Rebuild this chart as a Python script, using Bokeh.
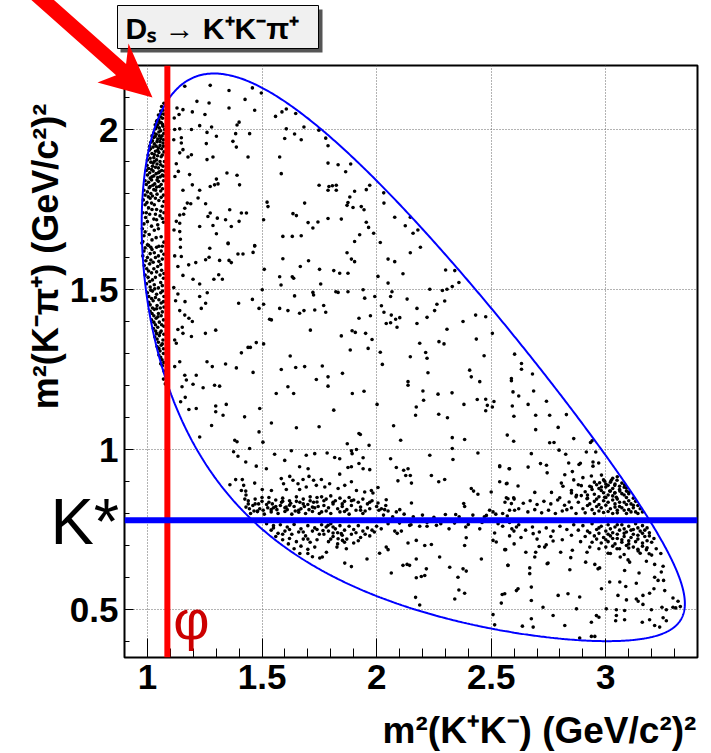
import numpy as np
from bokeh.plotting import figure
from bokeh.models import Range1d, FixedTicker, NumeralTickFormatter, Span, Label
from bokeh.core.properties import value
from bokeh.embed import file_html
from bokeh.resources import INLINE

# ---------------- data: (m2(K+K-), m2(K-pi+)) ----------------
upper_left = [
    (1.163, 2.135), (1.274, 2.138), (1.356, 2.122), (1.458, 2.130), (1.497, 2.114), (1.216, 2.088),
    (1.269, 2.083), (1.426, 2.094), (1.129, 2.067), (1.155, 2.062), (1.196, 2.055), (1.251, 2.047),
    (1.356, 2.067), (1.468, 2.060), (1.587, 2.055), (1.606, 2.064), (1.559, 2.041), (1.647, 2.050),
    (1.138, 2.047), (1.117, 2.036), (1.228, 2.012), (1.280, 2.008), (1.400, 2.023), (1.391, 2.014),
    (1.606, 2.002), (1.683, 2.008), (1.119, 2.000), (1.141, 2.002), (1.192, 2.000), (1.260, 1.991),
    (1.301, 1.979), (1.385, 1.987), (1.446, 1.987), (1.671, 1.968), (1.599, 1.972), (1.642, 1.986),
    (1.748, 1.998), (1.148, 1.974), (1.115, 1.968), (1.148, 1.958), (1.257, 1.956), (1.373, 1.963),
    (1.388, 1.945), (1.155, 1.937), (1.141, 1.927), (1.192, 1.921), (1.177, 1.914), (1.286, 1.914),
    (1.260, 1.906), (1.439, 1.914), (1.577, 1.914), (1.126, 1.893), (1.135, 1.869), (1.184, 1.859),
    (1.120, 1.853), (1.347, 1.864), (1.391, 1.857), (1.584, 1.862), (1.301, 1.845), (1.274, 1.822),
    (1.293, 1.827), (1.308, 1.830), (1.402, 1.827), (1.228, 1.810), (1.196, 1.827), (1.749, 1.826),
    (1.155, 1.810), (1.221, 1.786), (1.174, 1.770), (1.189, 1.768), (1.254, 1.768), (1.522, 1.773),
    (1.526, 1.759), (1.163, 1.754), (1.359, 1.749), (1.686, 1.770), (1.141, 1.733), (1.158, 1.735),
    (1.274, 1.739), (1.264, 1.728), (1.410, 1.739), (1.432, 1.739), (1.635, 1.737), (1.650, 1.731),
    (1.126, 1.713), (1.141, 1.707), (1.305, 1.723), (1.341, 1.718), (1.400, 1.713), (1.507, 1.718),
    (1.701, 1.709), (1.744, 1.711), (1.116, 1.686), (1.141, 1.681), (1.228, 1.697), (1.286, 1.700),
    (1.366, 1.697), (1.591, 1.666), (1.632, 1.666), (1.671, 1.668), (1.722, 1.692), (1.144, 1.657),
    (1.301, 1.674), (1.352, 1.645), (1.468, 1.636), (1.272, 1.629),
]

phi_band_upper = [
    (1.062, 2.072), (1.068, 2.060), (1.072, 2.082), (1.058, 2.058),
    (1.048, 2.045), (1.058, 2.040), (1.066, 2.035), (1.050, 2.030), (1.042, 2.028), (1.072, 2.048),
    (1.034, 2.015), (1.045, 2.015), (1.060, 2.022), (1.052, 2.005), (1.068, 2.010), (1.035, 2.002),
    (1.075, 2.000), (1.040, 2.025),
    (1.028, 1.990), (1.038, 1.985), (1.050, 1.992), (1.064, 1.980), (1.028, 1.975), (1.045, 1.970),
    (1.058, 1.972), (1.072, 1.988), (1.020, 1.980),
    (1.015, 1.960), (1.030, 1.955), (1.042, 1.962), (1.055, 1.950), (1.068, 1.958), (1.025, 1.945),
    (1.048, 1.942), (1.062, 1.940), (1.010, 1.948),
    (1.008, 1.935), (1.020, 1.925), (1.035, 1.932), (1.050, 1.928), (1.060, 1.915), (1.072, 1.930),
    (1.028, 1.912), (1.044, 1.918), (1.003, 1.920),
    (1.000, 1.905), (1.015, 1.898), (1.030, 1.900), (1.042, 1.892), (1.055, 1.900), (1.068, 1.885),
    (1.022, 1.885), (1.048, 1.880), (0.998, 1.888),
    (0.995, 1.872), (1.010, 1.865), (1.025, 1.870), (1.038, 1.862), (1.052, 1.868), (1.065, 1.858),
    (1.020, 1.852), (1.045, 1.850), (1.075, 1.870),
    (0.990, 1.840), (1.005, 1.835), (1.018, 1.842), (1.032, 1.830), (1.048, 1.838), (1.060, 1.828),
    (1.012, 1.822), (1.040, 1.820), (1.070, 1.840),
    (0.985, 1.810), (1.000, 1.805), (1.015, 1.800), (1.028, 1.812), (1.042, 1.798), (1.058, 1.808),
    (1.070, 1.795), (1.022, 1.792),
    (0.982, 1.780), (0.998, 1.772), (1.012, 1.785), (1.030, 1.765), (1.050, 1.778), (1.065, 1.760),
    (1.005, 1.755), (1.040, 1.750),
    (0.980, 1.740), (0.992, 1.725), (1.010, 1.735), (1.028, 1.720), (1.055, 1.730), (1.070, 1.710),
    (0.985, 1.705), (1.045, 1.702),
    (0.978, 1.690), (0.990, 1.680), (1.008, 1.672), (1.030, 1.685), (1.060, 1.665), (0.980, 1.650),
    (1.000, 1.640), (1.020, 1.655), (1.050, 1.635), (1.072, 1.648),
    (1.060, 2.050), (1.054, 2.022), (1.066, 2.016), (1.040, 2.008), (1.058, 1.996), (1.034, 1.978),
    (1.052, 1.980), (1.070, 1.968), (1.022, 1.965), (1.038, 1.948), (1.055, 1.962), (1.070, 1.948),
    (1.014, 1.940), (1.030, 1.922), (1.045, 1.935), (1.065, 1.920), (1.012, 1.910), (1.025, 1.895),
    (1.040, 1.905), (1.058, 1.890), (1.074, 1.900), (1.005, 1.878), (1.018, 1.875), (1.035, 1.882),
    (1.048, 1.865), (1.062, 1.872), (1.000, 1.858), (1.012, 1.848), (1.028, 1.855), (1.042, 1.842),
    (1.056, 1.852), (1.070, 1.855), (0.995, 1.828), (1.008, 1.818), (1.024, 1.826), (1.036, 1.810),
    (1.052, 1.822), (1.066, 1.815), (0.990, 1.795), (1.004, 1.790), (1.018, 1.770), (1.035, 1.785),
    (1.060, 1.788), (1.072, 1.775), (0.990, 1.765), (1.020, 1.750), (1.058, 1.745), (1.072, 1.740),
    (0.995, 1.740), (1.035, 1.735), (1.000, 1.712), (1.040, 1.718), (1.065, 1.722), (1.018, 1.698),
    (1.048, 1.690), (0.985, 1.668), (1.038, 1.662), (1.015, 1.632), (1.065, 1.635),
]

phi_band_lower = [
    (0.976, 1.645), (0.990, 1.630), (1.005, 1.638), (1.020, 1.625), (1.040, 1.632), (1.060, 1.620),
    (1.072, 1.610), (0.980, 1.605), (1.000, 1.600), (1.015, 1.592), (1.035, 1.600), (1.050, 1.588),
    (1.065, 1.595), (0.986, 1.575), (0.997, 1.565), (1.010, 1.580), (1.028, 1.565), (1.045, 1.572),
    (1.062, 1.560), (0.990, 1.545), (1.003, 1.538), (1.018, 1.552), (1.035, 1.538), (1.055, 1.545),
    (1.070, 1.535), (0.996, 1.518), (1.012, 1.508), (1.030, 1.515), (1.048, 1.505), (1.065, 1.512),
    (1.000, 1.490), (1.006, 1.478), (1.022, 1.495), (1.040, 1.485), (1.058, 1.490), (1.072, 1.478),
    (1.006, 1.460), (1.012, 1.452), (1.025, 1.465), (1.042, 1.450), (1.060, 1.458),
    (1.012, 1.432), (1.020, 1.425), (1.030, 1.438), (1.048, 1.425), (1.065, 1.430),
    (1.018, 1.405), (1.028, 1.398), (1.038, 1.410), (1.052, 1.398), (1.070, 1.405),
    (1.026, 1.378), (1.036, 1.370), (1.045, 1.382), (1.060, 1.370),
    (1.032, 1.352), (1.042, 1.345), (1.052, 1.356), (1.068, 1.342),
    (1.042, 1.322), (1.050, 1.316), (1.060, 1.326), (1.050, 1.295), (1.058, 1.288), (1.070, 1.300),
    (1.058, 1.268), (1.065, 1.262), (1.072, 1.245),
    (0.985, 1.620), (1.012, 1.612), (1.030, 1.615), (1.048, 1.605), (0.993, 1.590), (1.025, 1.585),
    (1.058, 1.578), (1.005, 1.558), (1.040, 1.555), (1.072, 1.550), (1.010, 1.525), (1.022, 1.530),
    (1.058, 1.522), (1.015, 1.498), (1.032, 1.502), (1.066, 1.495), (1.018, 1.472), (1.035, 1.475),
    (1.050, 1.468), (1.070, 1.462), (1.022, 1.442), (1.040, 1.440), (1.056, 1.442), (1.072, 1.445),
    (1.028, 1.418), (1.046, 1.415), (1.060, 1.418), (1.035, 1.390), (1.062, 1.390), (1.072, 1.385),
    (1.040, 1.362), (1.055, 1.365), (1.072, 1.360), (1.048, 1.335), (1.065, 1.330), (1.055, 1.308),
    (1.070, 1.315), (1.064, 1.280), (1.072, 1.272), (1.070, 1.220), (1.078, 1.205),
]

mid_left = [
    (1.144, 1.632), (1.352, 1.643), (1.468, 1.637), (1.395, 1.611), (1.417, 1.611), (1.461, 1.616),
    (1.119, 1.605), (1.148, 1.603), (1.269, 1.601), (1.315, 1.591), (1.356, 1.591), (1.366, 1.584),
    (1.254, 1.593), (1.133, 1.572), (1.180, 1.577), (1.211, 1.584), (1.591, 1.596), (1.667, 1.572),
    (1.703, 1.590), (1.751, 1.563), (1.510, 1.563), (1.155, 1.544), (1.199, 1.532), (1.228, 1.517),
    (1.290, 1.532), (1.311, 1.546), (1.327, 1.532), (1.577, 1.540), (1.583, 1.514), (1.632, 1.540),
    (1.638, 1.535), (1.115, 1.506), (1.133, 1.486), (1.123, 1.465), (1.164, 1.462), (1.228, 1.478),
    (1.254, 1.457), (1.261, 1.490), (1.235, 1.441), (1.398, 1.457), (1.458, 1.469), (1.501, 1.499),
    (1.507, 1.454), (1.487, 1.441), (1.577, 1.441), (1.613, 1.434), (1.642, 1.480), (1.683, 1.434),
    (1.664, 1.426), (1.722, 1.491), (1.725, 1.483), (1.730, 1.436), (1.141, 1.434), (1.163, 1.420),
    (1.181, 1.410), (1.196, 1.400), (1.152, 1.382), (1.133, 1.375), (1.155, 1.363), (1.192, 1.353),
    (1.253, 1.363), (1.298, 1.373), (1.533, 1.407), (1.541, 1.405), (1.711, 1.373), (1.119, 1.342),
    (1.126, 1.332), (1.475, 1.334), (1.507, 1.330), (1.439, 1.319), (1.449, 1.319), (1.410, 1.302),
    (1.623, 1.292), (1.141, 1.274), (1.119, 1.259), (1.260, 1.274), (1.283, 1.259), (1.341, 1.267),
    (1.388, 1.255), (1.461, 1.241), (1.584, 1.250), (1.647, 1.256), (1.686, 1.259), (1.163, 1.232),
    (1.213, 1.232), (1.170, 1.217), (1.151, 1.196), (1.199, 1.204), (1.243, 1.193), (1.293, 1.201),
    (1.315, 1.198), (1.613, 1.196), (1.562, 1.175), (1.638, 1.175), (1.737, 1.219), (1.165, 1.163),
    (1.145, 1.149), (1.181, 1.125), (1.213, 1.128), (1.298, 1.136), (1.344, 1.141), (1.330, 1.107),
    (1.298, 1.118), (1.424, 1.102), (1.490, 1.128), (1.541, 1.083), (1.650, 1.068), (1.749, 1.071),
    (1.280, 1.075), (1.228, 1.039), (1.381, 1.029), (1.391, 1.024), (1.487, 1.055), (1.504, 1.023),
    (1.446, 1.003),
]

upper_mid = [
    (1.778, 1.973), (1.788, 1.949), (1.788, 1.895), (1.832, 1.890), (1.887, 1.892), (1.865, 1.868),
    (1.792, 1.822), (1.807, 1.824), (1.824, 1.826), (1.788, 1.810), (1.824, 1.810), (1.904, 1.807),
    (1.955, 1.812), (1.970, 1.826), (1.883, 1.789), (1.875, 1.772), (1.871, 1.763), (1.897, 1.756),
    (1.933, 1.759), (1.945, 1.749), (2.031, 1.802), (2.032, 1.770), (1.788, 1.722), (1.846, 1.720),
    (1.955, 1.710), (1.965, 1.694), (1.987, 1.676), (1.926, 1.671), (1.904, 1.650), (2.016, 1.647),
    (2.079, 1.726), (2.125, 1.699), (2.147, 1.726), (2.159, 1.676), (2.180, 1.686), (2.191, 1.632),
    (2.147, 1.615), (1.871, 1.615), (1.890, 1.595), (2.050, 1.595),
]

center = [
    (2.079, 1.587), (1.904, 1.587), (1.813, 1.559), (1.839, 1.551), (1.875, 1.551), (2.115, 1.549),
    (2.301, 1.561), (2.341, 1.559), (1.756, 1.517), (1.822, 1.493), (1.832, 1.491), (1.875, 1.493),
    (1.941, 1.499), (2.006, 1.541), (2.050, 1.520), (2.067, 1.493), (2.061, 1.478), (1.992, 1.478),
    (1.948, 1.473), (2.232, 1.501), (2.287, 1.497), (2.307, 1.501), (2.330, 1.509), (2.359, 1.522),
    (1.769, 1.450), (1.778, 1.429), (1.923, 1.410), (1.973, 1.418), (2.021, 1.449), (2.032, 1.429),
    (2.064, 1.420), (2.083, 1.407), (2.101, 1.412), (2.042, 1.394), (2.061, 1.396), (2.089, 1.382),
    (2.133, 1.470), (2.176, 1.441), (2.176, 1.394), (2.220, 1.413), (2.253, 1.434), (2.263, 1.454),
    (2.297, 1.464), (2.307, 1.376), (2.377, 1.400), (2.432, 1.420), (2.476, 1.415), (1.893, 1.371),
    (1.907, 1.366), (1.846, 1.355), (1.952, 1.363), (1.980, 1.344), (2.188, 1.332), (2.272, 1.337),
    (2.294, 1.330), (2.435, 1.345), (2.505, 1.363), (1.885, 1.311), (1.963, 1.316), (2.016, 1.304),
    (2.025, 1.266), (2.147, 1.290), (2.214, 1.303), (2.220, 1.285), (2.224, 1.240), (2.469, 1.293),
    (2.602, 1.298), (1.763, 1.261), (1.851, 1.238), (1.788, 1.227), (1.788, 1.198), (2.137, 1.212),
    (2.137, 1.201), (2.406, 1.248), (2.413, 1.227), (2.450, 1.212), (2.588, 1.222), (2.588, 1.215),
    (2.595, 1.180), (1.945, 1.182), (1.894, 1.175), (2.002, 1.141), (2.202, 1.183), (2.205, 1.154),
    (2.268, 1.173), (2.329, 1.177), (2.173, 1.133), (2.170, 1.107), (2.271, 1.110), (2.309, 1.099),
    (2.381, 1.141), (2.439, 1.156), (2.476, 1.157), (2.483, 1.138), (2.505, 1.133), (2.476, 1.121),
    (2.512, 1.150), (2.592, 1.136), (2.620, 1.167), (2.599, 1.104), (1.813, 1.123), (2.074, 1.074),
    (1.923, 1.050), (1.929, 1.047), (2.105, 1.029), (1.967, 1.013), (1.872, 1.018), (1.890, 0.996),
    (1.912, 1.000), (1.893, 0.987), (1.784, 0.989), (1.817, 0.975), (1.839, 0.971), (1.941, 0.974),
    (2.061, 0.971), (2.232, 0.982), (2.330, 1.037), (2.330, 1.003), (2.333, 0.969), (2.384, 1.031),
    (2.442, 0.989), (2.570, 1.045), (2.598, 1.026),
]

right_mid = [
    (2.632, 1.269), (2.632, 1.251), (2.680, 1.236), (2.685, 1.183), (2.741, 1.151), (2.755, 1.107),
    (2.694, 1.107), (2.661, 1.141), (2.694, 1.062), (2.792, 1.069), (2.828, 1.109), (2.860, 1.034),
    (2.755, 1.021), (2.774, 1.022), (2.796, 0.998), (2.825, 0.985), (2.915, 0.992), (2.933, 1.022),
    (2.940, 1.027), (2.956, 0.992), (2.675, 0.987), (2.661, 0.945), (2.715, 0.956), (2.741, 0.951),
    (2.744, 0.927), (2.838, 0.958), (2.883, 0.953), (2.889, 0.957), (2.944, 0.961), (2.944, 0.948),
    (2.969, 0.958), (2.854, 0.931), (2.821, 0.921), (2.937, 0.917), (2.981, 0.920), (2.973, 0.896),
    (2.995, 0.901), (3.024, 0.904), (3.039, 0.888), (3.049, 0.904), (3.061, 0.870), (3.082, 0.890),
    (3.090, 0.880), (2.806, 0.895), (2.813, 0.885), (2.893, 0.887), (2.937, 0.883), (2.981, 0.883),
    (3.000, 0.883), (3.017, 0.870), (3.039, 0.864), (3.046, 0.851), (3.101, 0.867), (2.690, 0.866),
    (2.763, 0.866), (2.799, 0.849), (2.850, 0.864), (2.872, 0.857), (2.893, 0.856), (2.918, 0.846),
    (2.995, 0.851), (2.569, 0.894), (2.617, 0.886), (2.537, 0.949), (2.578, 0.940), (2.598, 0.849),
    (2.566, 0.849),
]

kstar_left = [
    (1.555, 0.985), (1.628, 0.996), (1.693, 0.982), (1.730, 0.987), (1.376, 0.993), (1.395, 0.979),
    (1.429, 0.961), (1.475, 0.948), (1.519, 0.940), (1.599, 0.966), (1.664, 0.946), (1.701, 0.940),
    (1.360, 0.890), (1.385, 0.906), (1.414, 0.906), (1.420, 0.888), (1.410, 0.872), (1.429, 0.870),
    (1.468, 0.895), (1.501, 0.875), (1.541, 0.872), (1.584, 0.909), (1.594, 0.893), (1.621, 0.916),
    (1.635, 0.904), (1.657, 0.893), (1.679, 0.906), (1.705, 0.916), (1.725, 0.904), (1.737, 0.888),
    (1.606, 0.875), (1.664, 0.875), (1.693, 0.883), (1.425, 0.845), (1.440, 0.830), (1.430, 0.858),
    (1.44, 0.84), (1.47, 0.845), (1.50, 0.838), (1.53, 0.850), (1.56, 0.842), (1.59, 0.848),
    (1.62, 0.840), (1.65, 0.852), (1.68, 0.845), (1.71, 0.840), (1.74, 0.850),
    (1.43, 0.820), (1.46, 0.825), (1.49, 0.815), (1.52, 0.828), (1.55, 0.818), (1.58, 0.825),
    (1.61, 0.812), (1.64, 0.822), (1.67, 0.815), (1.70, 0.828), (1.73, 0.818),
    (1.45, 0.800), (1.48, 0.808), (1.51, 0.798), (1.54, 0.805), (1.57, 0.800), (1.60, 0.806),
    (1.63, 0.798), (1.66, 0.804), (1.69, 0.800), (1.72, 0.806), (1.75, 0.800),
    (1.445, 0.815), (1.465, 0.808), (1.485, 0.830), (1.505, 0.810), (1.525, 0.818), (1.545, 0.830),
    (1.565, 0.812), (1.585, 0.835), (1.605, 0.820), (1.625, 0.832), (1.645, 0.808), (1.665, 0.835),
    (1.685, 0.822), (1.705, 0.812), (1.725, 0.835), (1.745, 0.822),
    (1.52, 0.768), (1.55, 0.755), (1.58, 0.765), (1.61, 0.758), (1.64, 0.766), (1.67, 0.752),
    (1.70, 0.762), (1.73, 0.755), (1.54, 0.748), (1.57, 0.738), (1.60, 0.745), (1.63, 0.735),
    (1.66, 0.742), (1.69, 0.730), (1.72, 0.745), (1.75, 0.735), (1.56, 0.728), (1.59, 0.718),
    (1.62, 0.722), (1.65, 0.712), (1.68, 0.720), (1.71, 0.710), (1.74, 0.718), (1.615, 0.705),
    (1.64, 0.690), (1.67, 0.698), (1.70, 0.688), (1.73, 0.695), (1.665, 0.675), (1.70, 0.675),
    (1.72, 0.665),
    (1.47, 0.830), (1.50, 0.850), (1.53, 0.835), (1.56, 0.822), (1.59, 0.838), (1.62, 0.826),
    (1.65, 0.838), (1.68, 0.830), (1.71, 0.852), (1.74, 0.836), (1.48, 0.806), (1.54, 0.812),
    (1.60, 0.818), (1.66, 0.810), (1.72, 0.820), (1.55, 0.762), (1.62, 0.750), (1.68, 0.742),
    (1.74, 0.750), (1.59, 0.735), (1.70, 0.720),
]

kstar_mid = [
    (1.839, 0.923), (1.875, 0.944), (1.890, 0.946), (1.923, 0.956), (1.941, 0.940), (1.970, 0.937),
    (2.086, 0.944), (2.118, 0.935), (2.137, 0.940), (2.127, 0.919), (2.147, 0.919), (2.152, 0.895),
    (2.093, 0.902), (2.239, 0.919), (2.271, 0.899), (2.297, 0.906), (2.413, 0.878), (2.423, 0.870),
    (2.442, 0.860), (2.500, 0.867), (2.537, 0.899), (2.566, 0.893), (2.580, 0.940), (2.537, 0.946),
    (2.573, 0.846), (2.588, 0.831), (2.602, 0.810), (1.759, 0.906), (1.774, 0.883), (1.795, 0.893),
    (1.832, 0.878), (1.861, 0.888), (1.890, 0.899), (1.912, 0.872), (1.948, 0.867), (1.977, 0.872),
    (1.984, 0.864), (2.006, 0.881), (2.042, 0.843), (2.006, 0.833), (2.021, 0.815), (2.035, 0.812),
    (2.050, 0.808), (2.086, 0.805), (2.101, 0.812), (2.152, 0.833), (2.079, 0.745), (2.108, 0.745),
    (2.090, 0.738), (2.144, 0.763), (2.188, 0.760), (2.220, 0.760), (2.261, 0.763), (2.316, 0.752),
    (2.345, 0.797), (2.380, 0.831), (2.384, 0.822), (2.389, 0.758), (2.450, 0.752), (2.479, 0.794),
    (2.493, 0.810), (2.508, 0.805), (2.515, 0.739), (2.522, 0.711), (2.508, 0.716), (2.599, 0.745),
    (2.610, 0.758), (2.559, 0.687), (2.573, 0.638), (2.457, 0.658), (2.391, 0.724), (2.384, 0.700),
    (2.355, 0.601), (2.341, 0.533), (2.384, 0.551), (2.359, 0.561), (2.377, 0.627), (2.391, 0.620),
    (2.319, 0.632), (2.275, 0.664), (2.217, 0.627), (2.195, 0.603), (2.210, 0.606), (2.173, 0.599),
    (2.188, 0.514), (2.170, 0.538), (2.144, 0.638), (2.115, 0.638), (2.133, 0.641), (2.064, 0.614),
    (2.173, 0.658), (2.239, 0.703), (2.210, 0.700), (2.173, 0.716), (2.137, 0.708), (2.042, 0.695),
    (2.050, 0.687), (2.013, 0.676), (1.958, 0.658), (1.752, 0.661), (1.763, 0.664), (1.781, 0.679),
    (1.827, 0.695), (1.851, 0.716), (1.868, 0.690), (1.890, 0.634), (1.861, 0.645), (1.810, 0.739),
    (1.832, 0.721), (1.846, 0.737), (1.810, 0.758), (1.788, 0.763), (1.766, 0.747), (2.508, 0.484),
    (2.515, 0.452), (2.548, 0.547), (2.544, 0.520), (2.617, 0.565),
    (1.76, 0.852), (1.78, 0.845), (1.80, 0.855), (1.82, 0.840), (1.84, 0.848), (1.86, 0.838),
    (1.88, 0.850), (1.90, 0.842), (1.92, 0.835), (1.94, 0.845), (1.96, 0.830), (1.98, 0.840),
    (1.77, 0.825), (1.79, 0.818), (1.81, 0.830), (1.83, 0.815), (1.85, 0.822), (1.87, 0.812),
    (1.89, 0.825), (1.91, 0.810), (1.93, 0.820), (1.95, 0.808), (1.97, 0.815), (2.00, 0.822),
    (1.76, 0.805), (1.80, 0.800), (1.84, 0.805), (1.88, 0.798),
    (1.76, 0.765), (1.78, 0.758), (1.80, 0.768), (1.82, 0.752), (1.84, 0.762), (1.86, 0.748),
    (1.88, 0.760), (1.90, 0.750), (1.92, 0.762), (1.94, 0.745), (1.96, 0.755), (1.98, 0.748),
    (2.00, 0.760), (2.02, 0.752), (1.77, 0.735), (1.81, 0.728), (1.85, 0.732), (1.87, 0.720),
    (1.89, 0.735), (1.93, 0.725), (1.97, 0.730), (1.79, 0.712), (1.83, 0.705), (1.90, 0.708),
    (2.03, 0.795), (2.07, 0.790), (2.12, 0.798), (2.16, 0.790), (2.20, 0.795), (2.25, 0.788),
    (2.30, 0.797), (2.36, 0.790), (2.42, 0.795), (2.47, 0.790), (2.52, 0.798), (2.57, 0.792),
    (2.05, 0.768), (2.10, 0.770), (2.15, 0.765), (2.22, 0.772), (2.28, 0.768), (2.34, 0.770),
    (2.40, 0.766), (2.46, 0.772), (2.53, 0.768), (2.58, 0.772),
    (1.77, 0.840), (1.81, 0.835), (1.85, 0.830), (1.89, 0.840), (1.93, 0.810), (1.97, 0.835),
    (2.01, 0.810), (2.04, 0.825), (1.78, 0.808), (1.86, 0.806), (1.94, 0.800), (1.79, 0.745),
    (1.83, 0.740), (1.91, 0.740), (1.95, 0.735), (1.99, 0.742), (1.80, 0.720), (1.86, 0.710),
    (1.92, 0.715),
]

lower_right = [
    (2.563, 0.687), (2.651, 0.679), (2.694, 0.679), (2.709, 0.697), (2.690, 0.664), (2.748, 0.645),
    (2.803, 0.679), (2.847, 0.662), (2.854, 0.685), (2.918, 0.679), (2.912, 0.648), (2.952, 0.641),
    (2.973, 0.630), (3.010, 0.676), (3.049, 0.690), (3.063, 0.664), (3.097, 0.655), (3.104, 0.648),
    (3.141, 0.683), (3.177, 0.687), (3.189, 0.674), (3.177, 0.651), (3.213, 0.641), (3.250, 0.635),
    (3.242, 0.617), (3.228, 0.591), (3.213, 0.601), (3.252, 0.591), (2.843, 0.624), (2.573, 0.638),
    (2.668, 0.630), (2.668, 0.612), (2.744, 0.643), (2.966, 0.627), (3.082, 0.622), (3.145, 0.614),
    (3.087, 0.572), (3.133, 0.582), (3.017, 0.586), (3.061, 0.586), (2.981, 0.565), (3.053, 0.544),
    (3.090, 0.530), (3.133, 0.533), (3.141, 0.526), (3.162, 0.544), (3.191, 0.551), (3.210, 0.565),
    (3.257, 0.559), (3.293, 0.536), (3.315, 0.526), (3.325, 0.509), (3.293, 0.507), (3.264, 0.499),
    (3.245, 0.507), (3.199, 0.499), (3.162, 0.516), (3.082, 0.497), (3.046, 0.499), (3.002, 0.502),
    (2.959, 0.481), (2.970, 0.476), (2.937, 0.460), (3.046, 0.481), (3.043, 0.465), (3.082, 0.468),
    (3.159, 0.460), (3.191, 0.468), (3.250, 0.474), (3.264, 0.465), (3.213, 0.450), (3.235, 0.445),
    (3.305, 0.505), (2.886, 0.539), (2.835, 0.549), (2.792, 0.544), (2.726, 0.507), (2.675, 0.528),
    (2.675, 0.471), (2.683, 0.445), (2.636, 0.448), (2.770, 0.481), (2.821, 0.450), (2.872, 0.502),
    (2.886, 0.411), (2.937, 0.416), (2.952, 0.416), (2.559, 0.549), (2.610, 0.559), (2.675, 0.570),
    (2.733, 0.695), (2.770, 0.714), (2.683, 0.737),
    (2.56, 0.835), (2.60, 0.845), (2.64, 0.832), (2.67, 0.840), (2.70, 0.828), (2.73, 0.838),
    (2.76, 0.830), (2.79, 0.842), (2.82, 0.826), (2.84, 0.836), (2.58, 0.810), (2.62, 0.815),
    (2.66, 0.805), (2.69, 0.812), (2.72, 0.802), (2.75, 0.810), (2.78, 0.800), (2.81, 0.808),
    (2.83, 0.812), (2.55, 0.800),
    (2.55, 0.760), (2.59, 0.752), (2.62, 0.765), (2.65, 0.748), (2.68, 0.758), (2.71, 0.742),
    (2.74, 0.755), (2.77, 0.745), (2.80, 0.760), (2.83, 0.750), (2.58, 0.730), (2.63, 0.725),
    (2.70, 0.720), (2.76, 0.728), (2.81, 0.718), (2.60, 0.705), (2.74, 0.702),
]

kstar_cluster = [
    (2.86, 0.905), (2.90, 0.912), (2.95, 0.898), (2.99, 0.905), (3.03, 0.910), (3.05, 0.915),
    (2.88, 0.890), (2.93, 0.885), (2.97, 0.878), (3.01, 0.888), (3.04, 0.892), (3.07, 0.895),
    (2.85, 0.872), (2.91, 0.868), (2.95, 0.860), (2.99, 0.865), (3.02, 0.870), (3.06, 0.875),
    (3.09, 0.870), (3.08, 0.882), (2.87, 0.852), (2.92, 0.848), (2.96, 0.845), (3.00, 0.850),
    (3.03, 0.855), (3.05, 0.845), (3.08, 0.858), (3.10, 0.862), (3.12, 0.848), (3.10, 0.840),
    (2.88, 0.835), (2.93, 0.830), (2.97, 0.828), (3.01, 0.835), (3.04, 0.830), (3.06, 0.822),
    (3.08, 0.835), (3.11, 0.830), (3.13, 0.838), (3.14, 0.825), (2.85, 0.818), (2.90, 0.815),
    (2.94, 0.812), (2.98, 0.818), (3.02, 0.815), (3.05, 0.810), (3.07, 0.818), (3.10, 0.812),
    (3.12, 0.818), (3.15, 0.815), (3.16, 0.805), (3.13, 0.805), (3.09, 0.800), (3.03, 0.800),
    (2.99, 0.803), (2.95, 0.800), (2.91, 0.802), (2.87, 0.800),
    (2.86, 0.765), (2.90, 0.762), (2.94, 0.768), (2.98, 0.760), (3.01, 0.765), (3.04, 0.758),
    (3.07, 0.765), (3.10, 0.760), (3.13, 0.768), (3.16, 0.762), (3.18, 0.755), (2.88, 0.748),
    (2.92, 0.745), (2.96, 0.750), (3.00, 0.745), (3.03, 0.740), (3.06, 0.748), (3.09, 0.742),
    (3.12, 0.750), (3.15, 0.745), (3.19, 0.740), (2.85, 0.732), (2.91, 0.728), (2.95, 0.730),
    (2.99, 0.725), (3.02, 0.730), (3.05, 0.722), (3.08, 0.728), (3.11, 0.725), (3.14, 0.732),
    (3.17, 0.728), (3.21, 0.722), (2.89, 0.712), (2.94, 0.710), (2.98, 0.708), (3.01, 0.712),
    (3.04, 0.705), (3.07, 0.710), (3.10, 0.705), (3.13, 0.712), (3.16, 0.708), (3.20, 0.710),
    (2.93, 0.695), (2.97, 0.690), (3.00, 0.695), (3.06, 0.690), (3.10, 0.692), (3.14, 0.688),
    (3.18, 0.693), (3.22, 0.690), (3.02, 0.675), (3.08, 0.672), (3.15, 0.676), (3.20, 0.670),
    (3.24, 0.675),
    (2.96, 0.890), (3.00, 0.892), (3.02, 0.898), (2.94, 0.875), (2.98, 0.872), (3.03, 0.878),
    (3.06, 0.885), (2.92, 0.858), (2.97, 0.852), (3.01, 0.858), (3.04, 0.865), (3.07, 0.862),
    (3.09, 0.850), (2.95, 0.838), (2.99, 0.840), (3.03, 0.842), (3.06, 0.835), (3.09, 0.828),
    (3.12, 0.826), (2.92, 0.825), (2.96, 0.822), (3.00, 0.826), (3.04, 0.820), (3.08, 0.810),
    (3.11, 0.805), (3.14, 0.800), (2.97, 0.808), (3.01, 0.806), (3.05, 0.802),
    (2.97, 0.755), (3.02, 0.752), (3.05, 0.765), (3.08, 0.752), (3.11, 0.748), (3.14, 0.755),
    (3.17, 0.748), (2.93, 0.740), (2.97, 0.738), (3.01, 0.735), (3.05, 0.735), (3.08, 0.738),
    (3.12, 0.735), (3.16, 0.738), (3.19, 0.730), (2.96, 0.720), (3.00, 0.718), (3.03, 0.722),
    (3.07, 0.718), (3.10, 0.715), (3.14, 0.720), (3.18, 0.715), (3.03, 0.698), (3.09, 0.700),
    (3.12, 0.695), (3.16, 0.698),
]

PHI_M2 = 1.087      # red vertical marker (phi)
KSTAR_M2 = 0.779    # blue horizontal marker (K*)
M_DS, M_K, M_PI = 1.9685, 0.4937, 0.1396   # masses for the Dalitz-plot boundary

x_ticks = [1, 1.5, 2, 2.5, 3]
y_ticks = [0.5, 1, 1.5, 2]
x_minor = [round(0.9 + 0.1 * i, 2) for i in range(26)]
y_minor = [round(0.4 + 0.1 * i, 2) for i in range(19)]

X_TITLE = "m²(K⁺K⁻) (GeV/c²)²"
Y_TITLE = "m²(K⁻π⁺) (GeV/c²)²"
PLOT_TITLE = "Dₛ → K⁺K⁻π⁺"
KSTAR_TEXT = "K*"
PHI_TEXT = "φ"

# ---------------- layout ----------------
W, H = 711, 753
FL, FR, FT, FB = 124, 697, 65, 657
X0, X1, Y0, Y1 = 0.9, 3.4, 0.35, 2.2
FONT = "Liberation Sans"
NB = "\u00a0"


def dx(px):
    return X0 + (px - FL) / (FR - FL) * (X1 - X0)


def dy(py):
    return Y1 - (py - FT) / (FB - FT) * (Y1 - Y0)


p = figure(width=W, height=H, x_range=Range1d(X0, X1), y_range=Range1d(Y0, Y1),
           output_backend="svg", toolbar_location=None, title=None,
           min_border_left=FL, min_border_right=W - FR,
           min_border_top=FT, min_border_bottom=H - FB)
p.background_fill_color = "white"
p.border_fill_color = "white"
p.outline_line_color = "black"
p.outline_line_width = 2

p.xaxis.ticker = FixedTicker(ticks=x_ticks, minor_ticks=x_minor)
p.yaxis.ticker = FixedTicker(ticks=y_ticks, minor_ticks=y_minor)
p.xgrid.ticker = FixedTicker(ticks=x_ticks)
p.ygrid.ticker = FixedTicker(ticks=y_ticks)
p.grid.grid_line_color = "#666666"
p.grid.grid_line_dash = "1 2"
p.grid.grid_line_width = 1

for ax in (p.xaxis[0], p.yaxis[0]):
    ax.formatter = NumeralTickFormatter(format="0.[0]")
    ax.axis_line_color = None
    ax.major_tick_out = 0
    ax.minor_tick_out = 0
    ax.major_tick_line_color = "black"
    ax.minor_tick_line_color = "black"
    ax.major_label_text_font = FONT
    ax.major_label_text_font_style = "bold"
    ax.major_label_text_font_size = "35px"
    ax.major_label_text_color = "black"
    ax.axis_label_text_font = FONT
    ax.axis_label_text_font_style = "bold"
    ax.axis_label_text_color = "black"
p.xaxis.axis_label_text_font_size = "37px"
p.yaxis.axis_label_text_font_size = "36px"
p.xaxis.major_tick_in = 19
p.xaxis.minor_tick_in = 9
p.yaxis.major_tick_in = 9
p.yaxis.minor_tick_in = 5
p.xaxis.major_label_standoff = 7
p.yaxis.major_label_standoff = 6
# axis titles, pushed towards the far end as in the original
p.xaxis.axis_label = NB * 25 + X_TITLE
p.yaxis.axis_label = NB * 21 + Y_TITLE
p.xaxis.axis_label_standoff = 18
p.yaxis.axis_label_standoff = 1

# points
pts = (upper_left + phi_band_upper + phi_band_lower + mid_left + upper_mid + center +
       right_mid + kstar_left + kstar_mid + lower_right + kstar_cluster)
m2_kk = [q[0] for q in pts]
m2_kpi = [q[1] for q in pts]
p.scatter(m2_kk, m2_kpi, size=3.6, color="black", line_color=None)

# Dalitz boundary from the particle masses
t = np.linspace(0, np.pi, 500)
s_lo, s_hi = (2 * M_K) ** 2, (M_DS - M_PI) ** 2
s = s_lo + (s_hi - s_lo) * (1 - np.cos(t)) / 2
rs = np.sqrt(s)
e2 = rs / 2
e3 = (M_DS ** 2 - s - M_PI ** 2) / (2 * rs)
p2 = np.sqrt(np.clip(e2 ** 2 - M_K ** 2, 0, None))
p3 = np.sqrt(np.clip(e3 ** 2 - M_PI ** 2, 0, None))
hi = (e2 + e3) ** 2 - (p2 - p3) ** 2
lo = (e2 + e3) ** 2 - (p2 + p3) ** 2
bx = np.concatenate([s, s[::-1]])
by = np.concatenate([hi, lo[::-1]])
p.line(bx, by, line_color="#0000ff", line_width=2)

# resonance lines
p.add_layout(Span(location=PHI_M2, dimension="height", line_color="#ff0000", line_width=6))
p.add_layout(Span(location=KSTAR_M2, dimension="width", line_color="#0000ff", line_width=6))

# phi label (inside the frame)
p.add_layout(Label(x=1.113, y=0.566, text=PHI_TEXT, text_font=FONT, text_font_size="56px",
                   text_color="#cc0000", text_align="left", text_baseline="top"))

# ---- items outside the frame: drawn on the overlay level so they are not clipped ----
# title box with its shadow
p.quad(left=[dx(120)], right=[dx(322)], top=[dy(9)], bottom=[dy(52)],
       fill_color="#555555", line_color=None, level="overlay")
p.quad(left=[dx(117)], right=[dx(318)], top=[dy(5)], bottom=[dy(48)],
       fill_color="#f0f0f0", line_color="black", line_width=1, level="overlay")
p.text(x=[dx(125)], y=[dy(11)], text=[PLOT_TITLE], text_font=value(FONT),
       text_font_style="bold", text_font_size=value("30px"), text_color="black",
       text_align="left", text_baseline="top", level="overlay")

# K* label left of the frame, at the K* line
p.text(x=[dx(50)], y=[dy(484)], text=[KSTAR_TEXT], text_font=value(FONT),
       text_font_size=value("65px"), text_color="black",
       text_align="left", text_baseline="top", level="overlay")

# red arrow pointing at the phi band
T = np.array([152.0, 97.0])
d = np.array([0.748, 0.664])
n = np.array([0.664, -0.748])
B = T - 42 * d
C = B - 180 * d
arrow_px = [T, np.array([128.0, 43.0]), B + 7.5 * n, C + 7.5 * n, C - 7.5 * n, B - 7.5 * n,
            np.array([97.0, 82.0])]
p.patch([dx(q[0]) for q in arrow_px], [dy(q[1]) for q in arrow_px],
        fill_color="#ff0000", line_color=None, level="overlay")

open("out.html", "w").write(file_html(p, INLINE))
